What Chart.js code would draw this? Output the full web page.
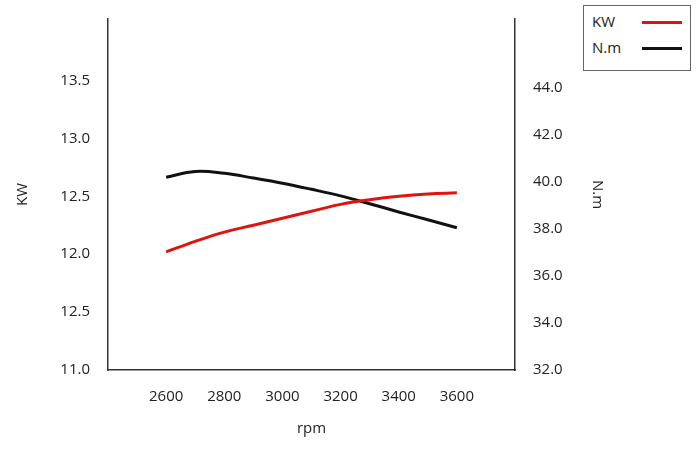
<!DOCTYPE html>
<html><head><meta charset="utf-8">
<script src="https://cdn.jsdelivr.net/npm/chart.js@4"></script>
<style>
body{margin:0;background:#fff;font-family:"Open Sans",sans-serif}
#wrap{position:relative;width:700px;height:462px}
#legend{position:absolute;left:583px;top:5px;width:106px;height:64px;border:1px solid #666;background:#fff;font-size:15px;color:#222}
#legend div{position:relative;height:22px;line-height:22px;padding-left:8px;margin-top:4px}
#legend span{position:absolute;left:58px;top:11px;width:40px;height:3px}
</style></head>
<body><div id="wrap"><canvas id="c" width="700" height="462"></canvas>
<div id="legend"><div>KW<span style="background:#e0140f"></span></div><div>N.m<span style="background:#111"></span></div></div></div>
<script>
const rpm = [2600, 2700, 2800, 2900, 3000, 3100, 3200, 3300, 3400, 3500, 3600];
const kw = [12.02, 12.11, 12.19, 12.25, 12.31, 12.37, 12.43, 12.47, 12.50, 12.52, 12.53];
const nm = [40.18, 40.43, 40.35, 40.15, 39.93, 39.67, 39.39, 39.06, 38.71, 38.38, 38.04];
const kwTicks = {11: '11.0', 11.5: '12.5', 12: '12.0', 12.5: '12.5', 13: '13.0', 13.5: '13.5'};
const xTicks = [2600, 2800, 3000, 3200, 3400, 3600];

const font = {family: '"Open Sans", sans-serif', size: 15};
new Chart(document.getElementById('c'), {
  type: 'line',
  data: {
    datasets: [
      {data: rpm.map((x, i) => ({x, y: kw[i]})), borderColor: '#e0140f', borderWidth: 3, pointRadius: 0, tension: 0.4, yAxisID: 'y'},
      {data: rpm.map((x, i) => ({x, y: nm[i]})), borderColor: '#111', borderWidth: 3, pointRadius: 0, tension: 0.4, yAxisID: 'y2'}
    ]
  },
  options: {
    responsive: false, animation: false,
    layout: {padding: {top: 15, right: 90, bottom: 20, left: 10}},
    plugins: {legend: {display: false}, tooltip: {enabled: false}},
    scales: {
      x: {type: 'linear', min: 2400, max: 3800,
        grid: {display: false}, border: {color: '#333', width: 1.5},
        afterBuildTicks: a => { a.ticks = xTicks.map(v => ({value: v})); },
        ticks: {font, color: '#222', padding: 10, callback: v => String(v)},
        title: {display: true, text: 'rpm', font, color: '#222'},
        afterFit: a => { a.height = 72; }},
      y: {position: 'left', min: 11, max: 14.03,
        grid: {display: false}, border: {color: '#333', width: 1.5},
        afterBuildTicks: a => { a.ticks = Object.keys(kwTicks).map(v => ({value: +v})); },
        ticks: {font, color: '#222', padding: 10, callback: v => kwTicks[v]},
        title: {display: true, text: 'KW', font, color: '#222'},
        afterFit: a => { a.width = 98; }},
      y2: {position: 'right', min: 32, max: 46.9,
        grid: {display: false}, border: {color: '#333', width: 1.5},
        afterBuildTicks: a => { a.ticks = [32, 34, 36, 38, 40, 42, 44].map(v => ({value: v})); },
        ticks: {font, color: '#222', padding: 10, callback: v => v.toFixed(1)},
        title: {display: true, text: 'N.m', font, color: '#222'},
        afterFit: a => { a.width = 95; }}
    }
  }
});
</script></body></html>
